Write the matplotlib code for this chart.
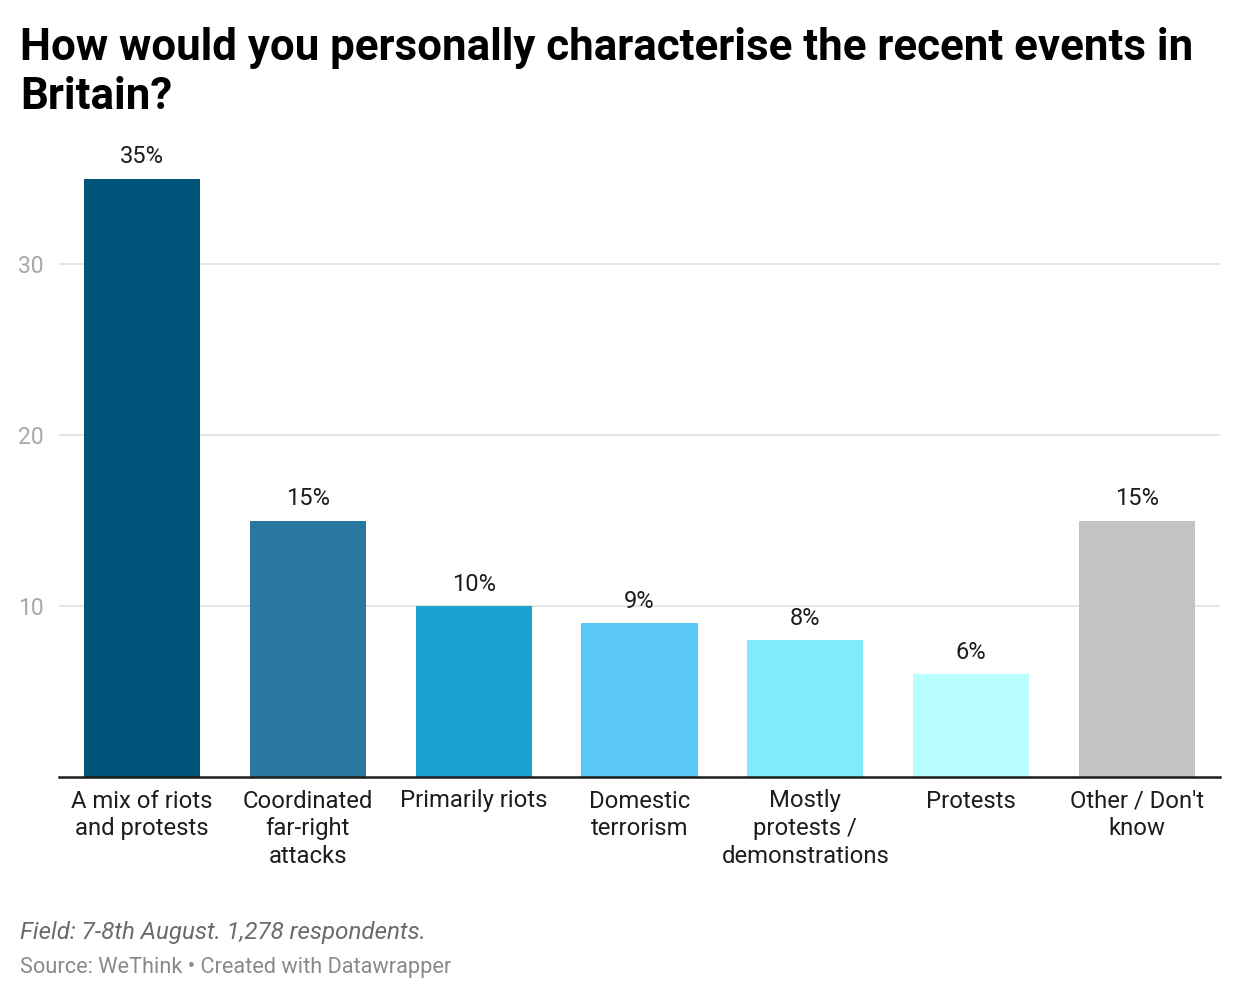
import matplotlib.pyplot as plt

plt.rcParams['font.family'] = ['Roboto', 'DejaVu Sans']

categories = ['A mix of riots\nand protests', 'Coordinated\nfar-right\nattacks', 'Primarily riots',
              'Domestic\nterrorism', 'Mostly\nprotests /\ndemonstrations', 'Protests', "Other / Don't\nknow"]
values = [35, 15, 10, 9, 8, 6, 15]
colors = ['#01547a', '#2878a2', '#19a1cf', '#59c8f4', '#80ebfd', '#baffff', '#c3c3c3']
yticks = [10, 20, 30]

fig = plt.figure(figsize=(12.4, 10.02), dpi=100)
ax = fig.add_axes([59 / 1240, 225 / 1002, 1161 / 1240, 598.5 / 1002])

x = range(len(values))
ax.bar(x, values, width=0.7, color=colors, zorder=2)
for i, v in zip(x, values):
    ax.text(i, v + 0.9, f'{v}%', ha='center', va='baseline', fontsize=17, color='#1d1d1d', clip_on=False)

ax.set_xlim(-0.5, len(values) - 0.5)
ax.set_ylim(0, 35)
ax.set_yticks(yticks)
ax.set_yticklabels([str(t) for t in yticks], fontsize=16.5, color='#a8a8a8')
ax.tick_params(axis='y', length=0, pad=11)
ax.grid(axis='y', color='#e3e3e3', linewidth=1.3, zorder=0)
ax.set_xticks(list(x))
ax.set_xticklabels(categories, fontsize=17.2, color='#1d1d1d', linespacing=1.27)
ax.tick_params(axis='x', length=0, pad=9)
for s in ['top', 'right', 'left']:
    ax.spines[s].set_visible(False)
ax.spines['bottom'].set_color('#1d1d1d')
ax.spines['bottom'].set_linewidth(1.8)
ax.spines['bottom'].set_zorder(3)

fig.text(20 / 1240, 1 - 27 / 1002, 'How would you personally characterise the recent events in\nBritain?',
         fontsize=31.6, fontweight='bold', color='#000000', ha='left', va='top', linespacing=1.2)
fig.text(20 / 1240, 1 - 932 / 1002, 'Field: 7-8th August. 1,278 respondents.', fontsize=17.4,
         style='italic', color='#6b6b6b', ha='left', va='center')
fig.text(20 / 1240, 1 - 968 / 1002, 'Source: WeThink • Created with Datawrapper', fontsize=15.7,
         color='#8a8a8a', ha='left', va='center')

fig.savefig('out.png', dpi=100)
